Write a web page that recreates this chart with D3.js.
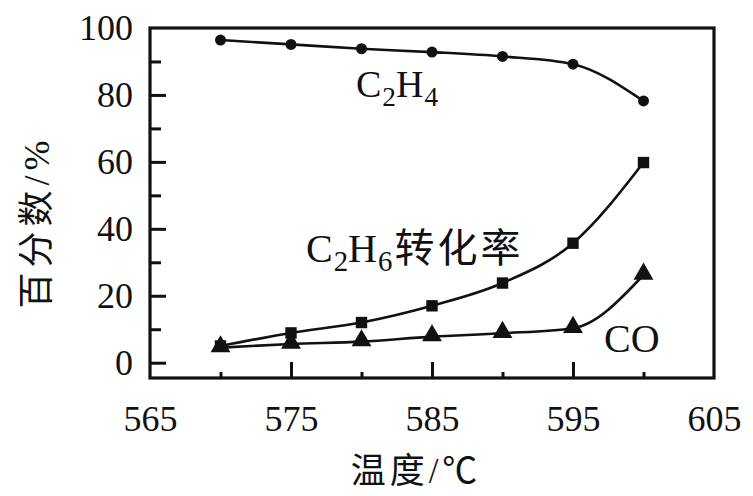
<!DOCTYPE html>
<html>
<head>
<meta charset="utf-8">
<script src="https://cdn.jsdelivr.net/npm/d3@7"></script>
<style>
  html, body { margin: 0; padding: 0; background: #fff; }
  svg { display: block; }
  text { font-family: "Liberation Serif", "Times New Roman", "Noto Sans CJK SC", serif; fill: #111; }
  .cjk { font-family: "Liberation Serif", "Noto Sans CJK SC", serif; }
</style>
</head>
<body>
<svg id="chart" width="753" height="496"></svg>
<script>
// ---- data ----
const temps = [570, 575, 580, 585, 590, 595, 600];
const c2h4 = [96.4, 95.1, 93.8, 92.8, 91.5, 89.2, 78.2];
const c2h6Conv = [5.0, 8.9, 12.0, 17.0, 23.8, 35.7, 59.8];
const co = [4.5, 5.6, 6.3, 7.8, 8.8, 10.3, 26.2];
const xTicksLabeled = [565, 575, 585, 595, 605];
const xMajorTicks = [575, 585, 595];
const xMinorTicks = [570, 580, 590, 600];
const yTicksLabeled = [0, 20, 40, 60, 80, 100];
const yMinorTicks = [10, 30, 50, 70, 90];
const xTitle = "温度/℃";
const yTitle = "百分数/%";

const svg = d3.select("#chart");
const L = 150, R = 714, T = 28, B = 378;
const x = d3.scaleLinear().domain([565, 605]).range([L, R]);
const y = d3.scaleLinear().domain([-4.57, 100]).range([B, T]);

// axes: labels
const fs = 36;
const xAxisLab = svg.append("g").attr("transform", `translate(0,${B})`)
  .call(d3.axisBottom(x).tickValues(xTicksLabeled).tickSize(0).tickPadding(27).tickFormat(d3.format("d")));
xAxisLab.select(".domain").remove();
xAxisLab.selectAll("text").attr("font-size", fs).style("font-family", "Liberation Serif").attr("fill", "#111");

const yAxisLab = svg.append("g").attr("transform", `translate(${L},0)`)
  .call(d3.axisLeft(y).tickValues(yTicksLabeled).tickSize(0).tickPadding(17).tickFormat(d3.format("d")));
yAxisLab.select(".domain").remove();
yAxisLab.selectAll("text").attr("font-size", fs).style("font-family", "Liberation Serif").attr("fill", "#111");

// inward ticks
function tickAxis(axis, tr) {
  const g = svg.append("g").attr("transform", tr).call(axis);
  g.select(".domain").remove();
  g.selectAll("text").remove();
  g.selectAll("line").attr("stroke", "#111").attr("stroke-width", 3);
  return g;
}
tickAxis(d3.axisLeft(y).tickValues([0, 20, 40, 60, 80]).tickSizeInner(-16).tickSizeOuter(0), `translate(${L},0)`);
tickAxis(d3.axisLeft(y).tickValues(yMinorTicks).tickSizeInner(-11).tickSizeOuter(0), `translate(${L},0)`);
tickAxis(d3.axisBottom(x).tickValues(xMajorTicks).tickSizeInner(-16).tickSizeOuter(0), `translate(0,${B})`);
tickAxis(d3.axisBottom(x).tickValues(xMinorTicks).tickSizeInner(-6).tickSizeOuter(0), `translate(0,${B})`);

// frame
svg.append("rect").attr("x", L).attr("y", T).attr("width", R - L).attr("height", B - T)
  .attr("fill", "none").attr("stroke", "#111").attr("stroke-width", 3.2);

// lines
const line = d3.line().x(d => x(d[0])).y(d => y(d[1])).curve(d3.curveMonotoneX);
function series(vals) { return temps.map((t, i) => [t, vals[i]]); }
[c2h4, c2h6Conv, co].forEach(vals => {
  svg.append("path").datum(series(vals)).attr("d", line)
    .attr("fill", "none").attr("stroke", "#111").attr("stroke-width", 2.6);
});

// markers
svg.append("g").selectAll("circle").data(series(c2h4)).join("circle")
  .attr("cx", d => x(d[0])).attr("cy", d => y(d[1])).attr("r", 5.5).attr("fill", "#111");
const sq = d3.symbol().type(d3.symbolSquare).size(130);
svg.append("g").selectAll("path").data(series(c2h6Conv)).join("path")
  .attr("transform", d => `translate(${x(d[0])},${y(d[1])})`).attr("d", sq).attr("fill", "#111");
const tri = d3.symbol().type(d3.symbolTriangle).size(170);
svg.append("g").selectAll("path").data(series(co)).join("path")
  .attr("transform", d => `translate(${x(d[0])},${y(d[1]) - 1})`).attr("d", tri).attr("fill", "#111");

// series labels
function chem(xp, yp, parts, size) {
  const t = svg.append("text").attr("x", xp).attr("y", yp).attr("font-size", size);
  let shift = 0;
  parts.forEach(p => {
    const sub = p.sub === true;
    const dy = sub ? 9 - shift : -shift;
    shift = sub ? 9 : 0;
    const ts = t.append("tspan").attr("dy", dy).text(p.t);
    if (sub) ts.attr("font-size", size * 0.72).attr("dx", 1);
    if (p.cjk) ts.attr("class", "cjk").attr("font-size", 40).attr("letter-spacing", 3).attr("dx", 2);
  });
  return t;
}
chem(356, 97, [{t: "C"}, {t: "2", sub: true}, {t: "H"}, {t: "4", sub: true}], 38);
chem(306, 262, [{t: "C"}, {t: "2", sub: true}, {t: "H"}, {t: "6", sub: true}, {t: "转化率", cjk: true}], 40);
svg.append("text").attr("x", 604).attr("y", 352).attr("font-size", 40).text("CO");

// axis titles
svg.append("text").attr("class", "cjk").attr("x", 416).attr("y", 483).attr("text-anchor", "middle")
  .attr("font-size", 35).attr("letter-spacing", 4).text(xTitle);
svg.append("text").attr("class", "cjk").attr("transform", "translate(49,222) rotate(-90)")
  .attr("text-anchor", "middle").attr("font-size", 36).attr("letter-spacing", 5).text(yTitle);
</script>
</body>
</html>
